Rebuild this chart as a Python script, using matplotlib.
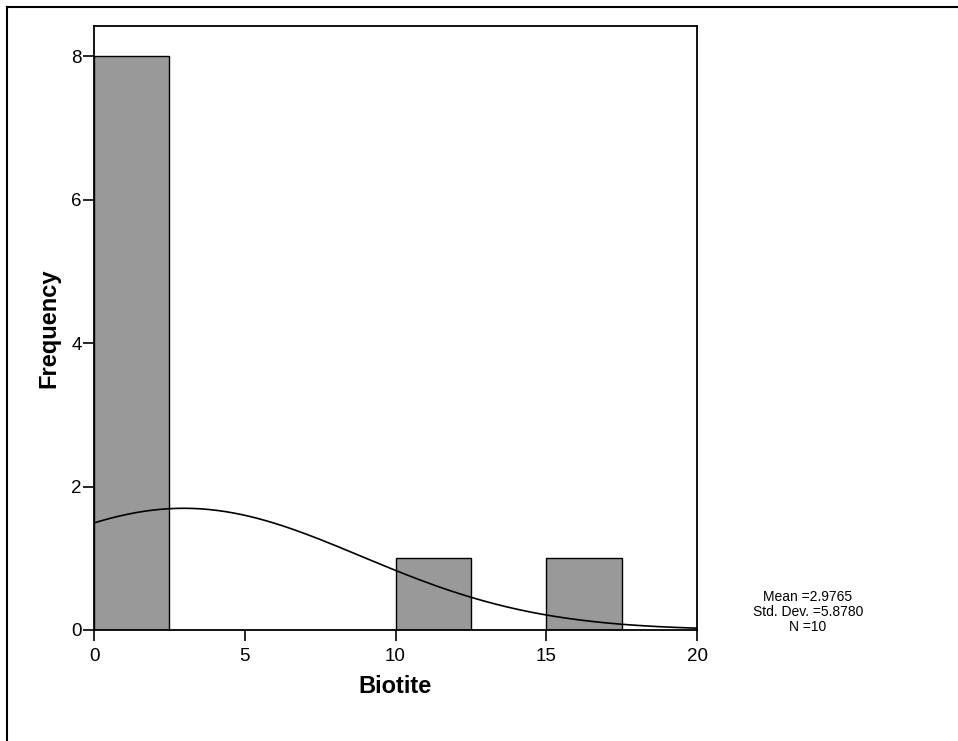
import numpy as np
import matplotlib
matplotlib.use("Agg")
import matplotlib.pyplot as plt
from matplotlib.lines import Line2D

plt.rcParams['font.family'] = ['Liberation Sans', 'DejaVu Sans']

# histogram bins and counts
bin_left = [0, 2.5, 5, 7.5, 10, 12.5, 15, 17.5]
counts = [8, 0, 0, 0, 1, 0, 1, 0]
bin_width = 2.5

# summary stats (from the chart)
mean = 2.9765
std_dev = 5.8780
n = 10

xticks = [0, 5, 10, 15, 20]
yticks = [0, 2, 4, 6, 8]

fig = plt.figure(figsize=(9.58, 7.41), dpi=100)
ax = fig.add_axes([94/958, 111/741, 603/958, 604/741])

for x0, c in zip(bin_left, counts):
    if c > 0:
        ax.bar(x0, c, width=bin_width, align='edge', color='#999999',
               edgecolor='black', linewidth=1.0, zorder=2)

# normal curve scaled to counts
xs = np.linspace(0, 20, 300)
ys = n * bin_width / (std_dev * np.sqrt(2 * np.pi)) * np.exp(-0.5 * ((xs - mean) / std_dev) ** 2)
ax.plot(xs, ys, color='black', linewidth=1.2, zorder=3)

ax.set_xlim(0, 20)
ax.set_ylim(0, 8.42)
ax.set_xticks(xticks)
ax.set_yticks(yticks)
ax.tick_params(axis='both', direction='out', length=8, width=1.2, labelsize=13.5)
ax.tick_params(axis='x', pad=5)
ax.tick_params(axis='y', pad=1)
for s in ax.spines.values():
    s.set_linewidth(1.3)

ax.set_xlabel('Biotite', fontsize=17, fontweight='bold', labelpad=7)
ax.set_ylabel('Frequency', fontsize=17, fontweight='bold', labelpad=8)

fig.text(808/958, 1 - 612/741,
         'Mean =%.4f\nStd. Dev. =%.4f\nN =%d' % (mean, std_dev, n),
         ha='center', va='center', fontsize=10, linespacing=1.05)

# outer frame (left and top edges)
fig.add_artist(Line2D([7/958, 7/958], [0, 1 - 7/741], transform=fig.transFigure,
                      color='black', linewidth=1.5))
fig.add_artist(Line2D([7/958, 1], [1 - 7/741, 1 - 7/741], transform=fig.transFigure,
                      color='black', linewidth=1.5))

fig.savefig('out.png', dpi=100)
